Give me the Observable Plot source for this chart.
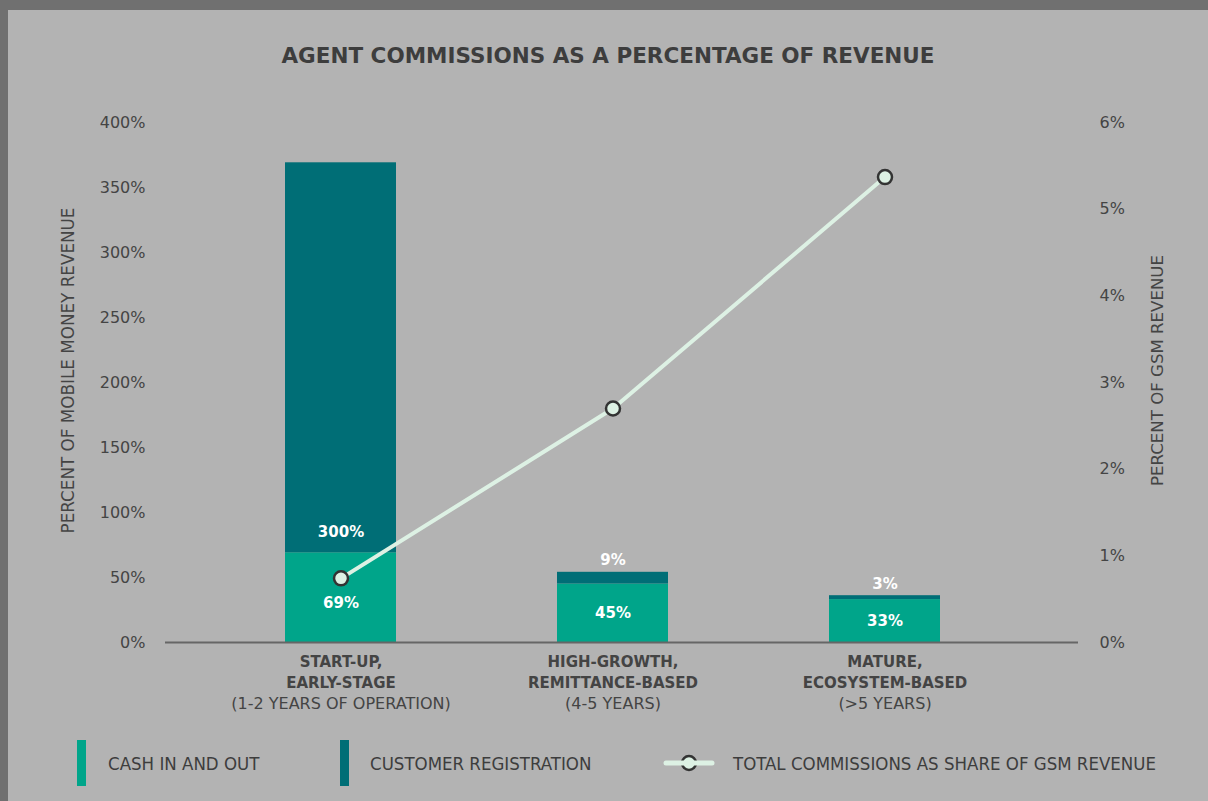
<!DOCTYPE html>
<html>
<head>
<meta charset="utf-8">
<script src="https://cdn.jsdelivr.net/npm/d3@7"></script>
<script src="https://cdn.jsdelivr.net/npm/@observablehq/plot@0.6"></script>
<style>
  html, body { margin: 0; padding: 0; background: #707070; width: 1208px; height: 801px; overflow: hidden; }
  #panel { position: absolute; left: 8px; top: 10px; width: 1200px; height: 791px; background: #b3b3b3; font-family: "DejaVu Sans", sans-serif; }
  #title { height: 80px; display: flex; align-items: center; justify-content: center; padding-top: 10px; box-sizing: border-box;
           font-weight: 700; font-size: 21.5px; color: #3d3d3d; }
  #chart svg { display: block; }
  #legend { position: relative; height: 76px; font-family: "DejaVu Sans Condensed", "DejaVu Sans", sans-serif; font-size: 18.5px; color: #3d3d3d; }
  .sw { position: absolute; width: 9px; height: 46px; top: 15px; }
  .lt { position: absolute; top: 38px; transform: translateY(-50%); white-space: nowrap; }
</style>
</head>
<body>
<div id="panel">
  <div id="title">AGENT COMMISSIONS AS A PERCENTAGE OF REVENUE</div>
  <div id="chart"></div>
  <div id="legend"></div>
</div>
<script>
// ---- data ----
const stages = ["START-UP", "HIGH-GROWTH", "MATURE"];
const stageLine1 = ["START-UP,", "HIGH-GROWTH,", "MATURE,"];
const stageLine2 = ["EARLY-STAGE", "REMITTANCE-BASED", "ECOSYSTEM-BASED"];
const stageLine3 = ["(1-2 YEARS OF OPERATION)", "(4-5 YEARS)", "(>5 YEARS)"];
const cashInOut = [69, 45, 33];
const customerRegistration = [300, 9, 3];
const gsmShare = [0.74, 2.7, 5.37];
const leftTicks = [0, 50, 100, 150, 200, 250, 300, 350, 400];
const rightTicks = [0, 1, 2, 3, 4, 5, 6];
const seriesNames = ["CASH IN AND OUT", "CUSTOMER REGISTRATION"];
const seriesColors = ["#00a58a", "#006e76"];
const lineName = "TOTAL COMMISSIONS AS SHARE OF GSM REVENUE";

// ---- derived ----
const k = 400 / 6; // right axis -> left axis units
const bars = [];
stages.forEach((s, i) => {
  bars.push({stage: s, type: seriesNames[0], value: cashInOut[i]});
  bars.push({stage: s, type: seriesNames[1], value: customerRegistration[i]});
});
const rows = stages.map((s, i) => ({
  stage: s, cash: cashInOut[i], reg: customerRegistration[i],
  total: cashInOut[i] + customerRegistration[i], gsm: gsmShare[i] * k,
  l1: stageLine1[i], l2: stageLine2[i], l3: stageLine3[i]
}));
const regInside = rows.filter(d => d.reg > 50);
const regAbove = rows.filter(d => d.reg <= 50);
const cashNearDot = rows.filter(d => Math.abs(d.cash / 2 - d.gsm) <= 25);
const cashFree = rows.filter(d => Math.abs(d.cash / 2 - d.gsm) > 25);

const textColor = "#444";
const font = "'DejaVu Sans', sans-serif";
const chart = Plot.plot({
  width: 1200,
  height: 635,
  marginLeft: 157,
  marginRight: 130,
  marginTop: 32,
  marginBottom: 83,
  style: {fontFamily: font, fontSize: "16px", color: textColor, background: "transparent"},
  x: {domain: stages, axis: null, paddingInner: 0.593, paddingOuter: 0.472, align: 0.465},
  y: {domain: [0, 400], axis: null},
  color: {domain: seriesNames, range: seriesColors},
  marks: [
    Plot.barY(bars, {x: "stage", y: "value", fill: "type", inset: 0}),
    Plot.ruleY([0], {stroke: "#666", strokeWidth: 2}),
    Plot.axisY(leftTicks, {anchor: "left", tickSize: 0, tickPadding: 20, tickFormat: d => d + "%", label: null, fill: textColor, fontSize: 16}),
    Plot.axisY(rightTicks.map(t => t * k), {anchor: "right", tickSize: 0, tickPadding: 21, tickFormat: d => Math.round(d / k) + "%", label: null, fill: textColor, fontSize: 16}),
    Plot.text(["PERCENT OF MOBILE MONEY REVENUE"], {frameAnchor: "left", textAnchor: "middle", dx: -97, dy: -12, rotate: -90, fill: textColor, fontSize: 16.8}),
    Plot.text(["PERCENT OF GSM REVENUE"], {frameAnchor: "right", textAnchor: "middle", dx: 79, dy: -12, rotate: -90, fill: textColor, fontSize: 16.6}),
    // value labels
    Plot.text(regInside, {x: "stage", y: "cash", text: d => d.reg + "%", dy: -21, fill: "white", fontWeight: 700, fontSize: 15}),
    Plot.text(regAbove, {x: "stage", y: "total", text: d => d.reg + "%", dy: -12, fill: "white", fontWeight: 700, fontSize: 15}),
    Plot.text(cashFree, {x: "stage", y: d => d.cash / 2, text: d => d.cash + "%", fill: "white", fontWeight: 700, fontSize: 15}),
    Plot.text(cashNearDot, {x: "stage", y: d => d.cash / 2, text: d => d.cash + "%", dy: 6, fill: "white", fontWeight: 700, fontSize: 15}),
    // line
    Plot.line(rows, {x: "stage", y: "gsm", stroke: "#ddf1e4", strokeWidth: 4}),
    Plot.dot(rows, {x: "stage", y: "gsm", r: 7, stroke: "#333", strokeWidth: 2.5, fill: "#ddf1e4"}),
    // category labels
    Plot.text(rows, {x: "stage", y: 0, text: "l1", dy: 20, fill: textColor, fontWeight: 700, fontSize: 15}),
    Plot.text(rows, {x: "stage", y: 0, text: "l2", dy: 41, fill: textColor, fontWeight: 700, fontSize: 15}),
    Plot.text(rows, {x: "stage", y: 0, text: "l3", dy: 61, fill: textColor, fontWeight: 400, fontSize: 16})
  ]
});
document.getElementById("chart").appendChild(chart);

// ---- legend ----
const legend = document.getElementById("legend");
legend.innerHTML = `
  <div class="sw" style="left:69px;background:${seriesColors[0]}"></div>
  <div class="lt" style="left:100px">${seriesNames[0]}</div>
  <div class="sw" style="left:332px;background:${seriesColors[1]}"></div>
  <div class="lt" style="left:362px">${seriesNames[1]}</div>
  <svg style="position:absolute;left:655px;top:26px" width="52" height="24">
    <circle cx="26" cy="12" r="7" fill="#ddf1e4" stroke="#333" stroke-width="2.5"></circle>
    <line x1="3" x2="49" y1="12" y2="12" stroke="#ddf1e4" stroke-width="5" stroke-linecap="round"></line>
  </svg>
  <div class="lt" style="left:725px">${lineName}</div>
`;
</script>
</body>
</html>
